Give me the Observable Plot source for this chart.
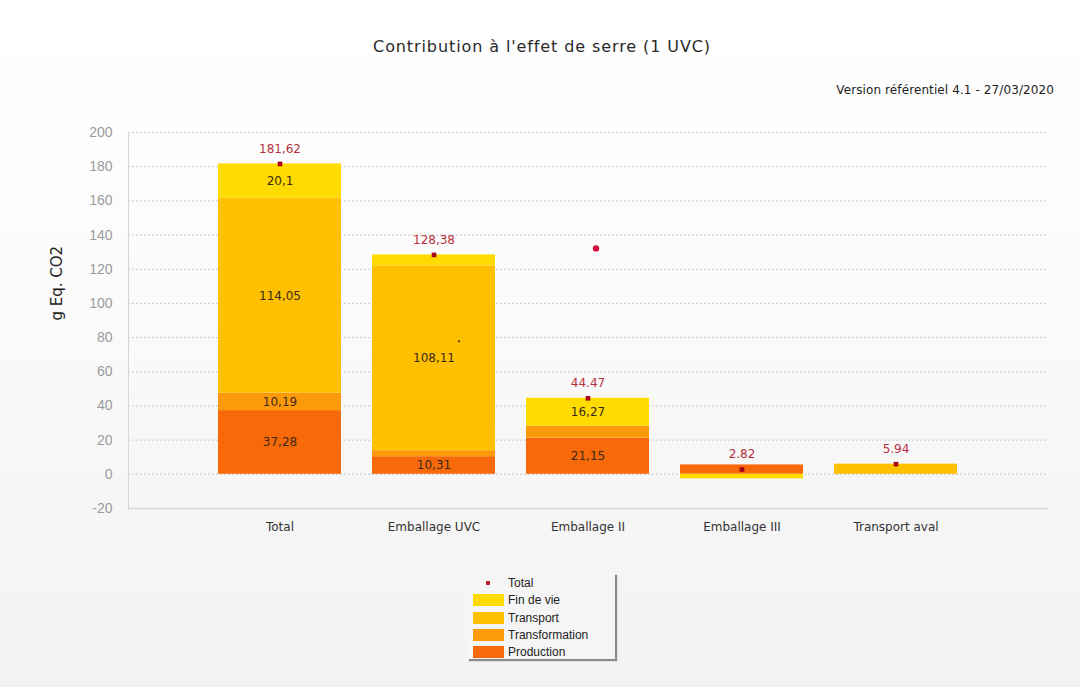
<!DOCTYPE html>
<html>
<head>
<meta charset="utf-8">
<script src="https://cdn.jsdelivr.net/npm/d3@7"></script>
<script src="https://cdn.jsdelivr.net/npm/@observablehq/plot@0.6"></script>
<style>
  html, body { margin: 0; padding: 0; }
  #page {
    position: relative; width: 1080px; height: 687px; overflow: hidden;
    background: linear-gradient(to bottom, #ffffff 0%, #fbfbfb 40%, #f2f2f2 100%);
    font-family: "DejaVu Sans", sans-serif;
  }
  #title {
    position: absolute; left: 0; width: 1084px; top: 37px; text-align: center;
    font-family: "DejaVu Sans", sans-serif; font-size: 16px; letter-spacing: 0.9px; color: #2a2a2a;
  }
  #version {
    position: absolute; right: 26px; top: 83px;
    font-family: "DejaVu Sans", sans-serif; font-size: 12px; letter-spacing: 0.1px; color: #222;
  }
  #chart { position: absolute; left: 0; top: 0; }
  #legend {
    position: absolute; left: 467px; top: 573px; width: 148px; height: 86px;
    background: #f5f5f5; box-shadow: 2px 2px 1px #8a8a8a;
    font-family: "Liberation Sans", Arial, sans-serif; font-size: 12px; color: #222;
  }
  .lrow { position: absolute; left: 0; height: 14px; line-height: 14px; }
  .sw { position: absolute; left: 6px; top: 1px; width: 31px; height: 12px; }
  .dotsw { position: absolute; left: 19px; top: 5px; width: 4px; height: 4px; background: #c0102a; border-radius: 1px; }
  .lt { position: absolute; left: 41px; top: 0; white-space: nowrap; }
</style>
</head>
<body>
<div id="page">
  <div id="chart"></div>
  <div id="title"></div>
  <div id="version"></div>
  <div id="legend"></div>
</div>
<script>
// ---- Data ----
const title = "Contribution à l'effet de serre (1 UVC)";
const version = "Version référentiel 4.1 - 27/03/2020";
const yLabel = "g Eq. CO2";
const categories = ["Total", "Emballage UVC", "Emballage II", "Emballage III", "Transport aval"];
const phases = ["Production", "Transformation", "Transport", "Fin de vie"];
const production     = [37.28, 10.31, 21.15, 5.5, 0];
const transformation = [10.19, 3.5, 7.05, 0, 0];
const transport      = [114.05, 108.11, 0, 0, 5.94];
const finDeVie       = [20.1, 6.46, 16.27, -2.68, 0];
const totals      = [181.62, 128.38, 44.47, 2.82, 5.94];
const totalLabels = ["181,62", "128,38", "44.47", "2.82", "5.94"];
const yTicks = [-20, 0, 20, 40, 60, 80, 100, 120, 140, 160, 180, 200];
const phaseColors = ["#f8690a", "#fd9a0c", "#ffc000", "#ffdb00"];
// stray markers visible in the original image
const strayCategories = ["Emballage II", "Emballage UVC"];
const strayValues = [132.2, 77.8];

// ---- Tables built from arrays ----
const series = [production, transformation, transport, finDeVie];
const rows = [];
phases.forEach((p, i) => categories.forEach((c, j) => rows.push({category: c, phase: p, value: series[i][j]})));
const totalRows = categories.map((c, j) => ({category: c, value: totals[j], label: totalLabels[j]}));
const strayRed = [{category: strayCategories[0], value: strayValues[0]}];
const strayBlack = [{category: strayCategories[1], value: strayValues[1]}];

const fmt = v => String(v).replace(".", ",");

const W = 1080, ML = 128, MR = 32;
const chart = Plot.plot({
  width: W,
  height: 560,
  marginLeft: ML,
  marginRight: MR,
  marginTop: 132,
  marginBottom: 52,
  style: {background: "transparent", overflow: "visible"},
  x: {domain: categories, paddingInner: 0.2, paddingOuter: 0.585, label: null},
  y: {domain: [-20, 200], label: null},
  color: {domain: phases, range: phaseColors},
  marks: [
    Plot.ruleY(yTicks.filter(t => t !== -20), {stroke: "#c8c8c8", strokeDasharray: "2,2", strokeWidth: 1}),
    Plot.ruleY([-20], {stroke: "#d8d8d8", strokeWidth: 1.5}),
    Plot.frame({anchor: "left", stroke: "#d6d6d6", strokeWidth: 1}),
    Plot.barY(rows, Plot.stackY({x: "category", y: "value", fill: "phase", z: "phase", order: null})),
    Plot.text(rows, Plot.stackY({
      x: "category", y: "value", z: "phase", order: null,
      text: d => (d.value >= 10 ? fmt(d.value) : ""),
      fill: "#3b2a18", fontSize: 12, fontFamily: "DejaVu Sans, sans-serif"
    })),
    Plot.dot(totalRows, {x: "category", y: "value", symbol: "square", r: 2.6, fill: "#a8001a", stroke: "none"}),
    Plot.text(totalRows, {x: "category", y: "value", text: "label", dy: -15, fill: "#b83040", fontSize: 12, fontFamily: "DejaVu Sans, sans-serif"}),
    Plot.dot(strayRed, {x: "category", y: "value", dx: 8, r: 3.2, fill: "#d0103a", stroke: "none"}),
    Plot.dot(strayBlack, {x: "category", y: "value", dx: 25, r: 1, fill: "#222", stroke: "none"}),
    Plot.axisY(yTicks, {tickSize: 0, tickPadding: 16, fontSize: 14, fill: "#9a9a9a", fontFamily: "Liberation Sans, Arial, sans-serif", tickFormat: d => String(d), label: null}),
    Plot.axisX({tickSize: 0, tickPadding: 14, fontSize: 12, fill: "#333", fontFamily: "DejaVu Sans, sans-serif", label: null}),
    Plot.text([yLabel], {frameAnchor: "left", dx: -71, rotate: -90, fontSize: 15, fill: "#222", fontFamily: "DejaVu Sans, sans-serif"})
  ]
});
document.getElementById("chart").appendChild(chart);
document.getElementById("title").textContent = title;
document.getElementById("version").textContent = version;

// Legend
const legend = document.getElementById("legend");
const items = [{label: "Total", dot: true}].concat(phases.slice().reverse().map(p => ({label: p, color: phaseColors[phases.indexOf(p)]})));
items.forEach((it, i) => {
  const row = document.createElement("div");
  row.className = "lrow";
  row.style.top = (3 + i * 17.3) + "px";
  const mark = document.createElement("div");
  if (it.dot) { mark.className = "dotsw"; } else { mark.className = "sw"; mark.style.background = it.color; }
  row.appendChild(mark);
  const t = document.createElement("div");
  t.className = "lt";
  t.textContent = it.label;
  row.appendChild(t);
  legend.appendChild(row);
});
</script>
</body>
</html>
